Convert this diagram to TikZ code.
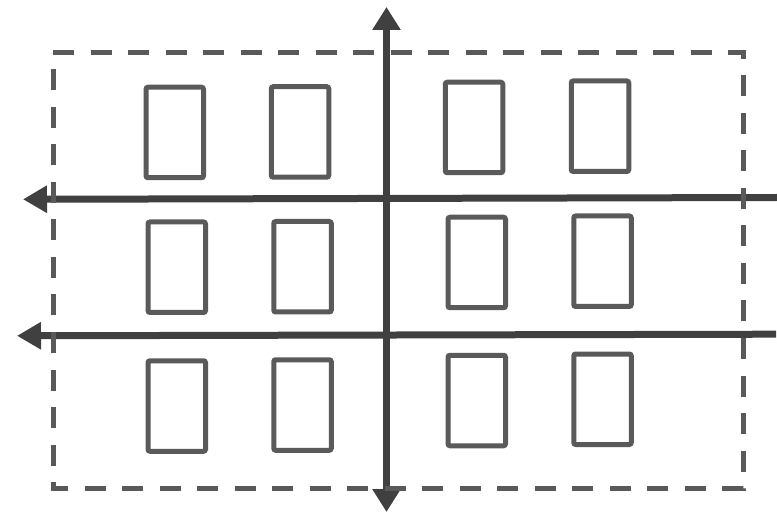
\documentclass[tikz,border=0pt]{standalone}
\usetikzlibrary{arrows.meta}
\definecolor{boxgray}{HTML}{5A5A5A}
\definecolor{axisgray}{HTML}{404040}
\definecolor{dashgray}{HTML}{595959}
\begin{document}
\begin{tikzpicture}[x=1pt,y=-1pt,
  seat/.style={draw=boxgray,line width=5pt,rounded corners=2pt,minimum width=57.5pt,minimum height=90.5pt,inner sep=0pt,fill=white},
  axis/.style={draw=axisgray,line width=7pt,-{Triangle[length=24pt,width=26pt]}},
  biaxis/.style={draw=axisgray,line width=7pt,{Triangle[length=23pt,width=27pt]}-{Triangle[length=23pt,width=27pt]}},
  frame/.style={draw=dashgray,line width=5pt,dash pattern=on 21pt off 16.5pt}]
\useasboundingbox (0,0) rectangle (777,513);
% seats
\node[seat] (r1) at (174.75,132.5) {};
\node[seat] (r2) at (300,132) {};
\node[seat] (r3) at (474,127.5) {};
\node[seat] (r4) at (600,126.25) {};
\node[seat] (r5) at (176.75,267.25) {};
\node[seat] (r6) at (302.5,266.75) {};
\node[seat] (r7) at (476.75,262.5) {};
\node[seat] (r8) at (602.5,261.25) {};
\node[seat] (r9) at (176.75,406) {};
\node[seat] (r10) at (302.5,405) {};
\node[seat] (r11) at (476.75,400.5) {};
\node[seat] (r12) at (602.5,399.25) {};
% axes
\coordinate (vtop) at (386.5,7);
\coordinate (vbot) at (386.5,512);
\coordinate (h1r) at (777,197.5);
\coordinate (h1l) at (23,199.3);
\coordinate (h2r) at (776,334.2);
\coordinate (h2l) at (17,335.8);
\draw[biaxis] (vbot) -- (vtop);
\draw[axis] (h1r) -- (h1l);
\draw[axis] (h2r) -- (h2l);
% dashed frame
\coordinate (ftl) at (53.3,53);
\coordinate (ftr) at (743.3,53);
\coordinate (fbr) at (743.3,488);
\coordinate (fbl) at (53.3,488);
\draw[frame] (ftl) -- (ftr) -- (fbr) -- (fbl) -- cycle;
\end{tikzpicture}
\end{document}
